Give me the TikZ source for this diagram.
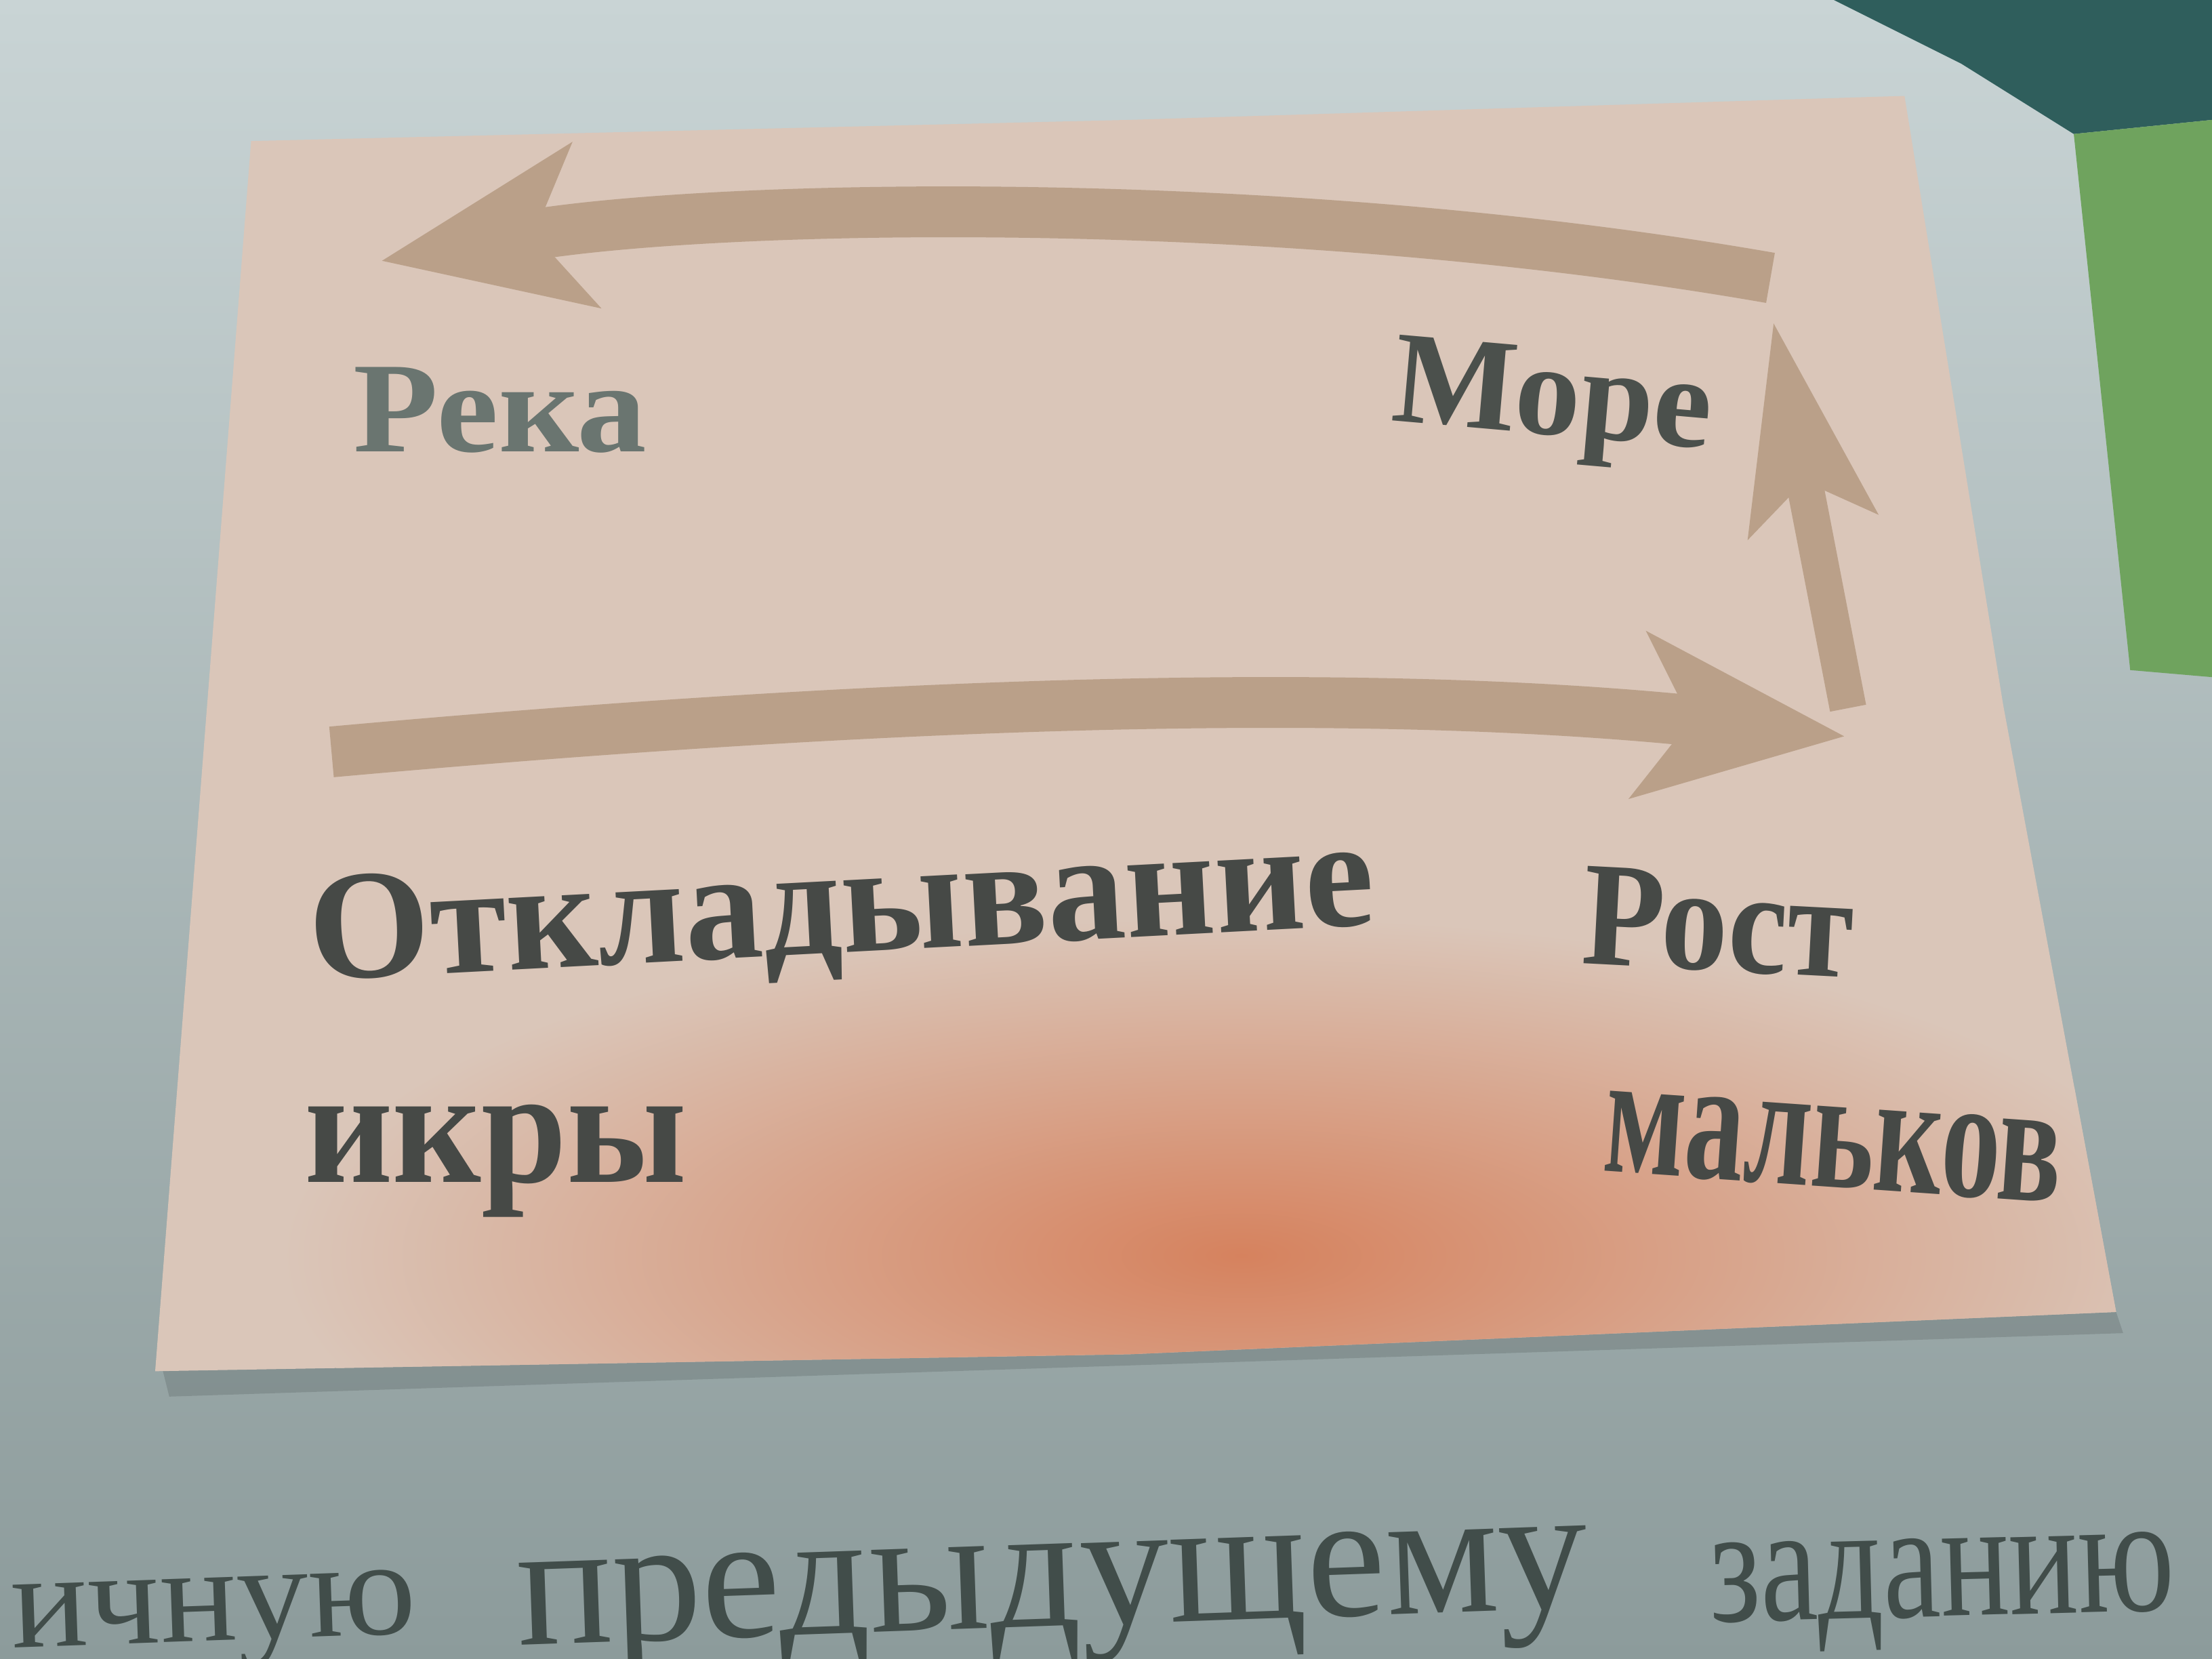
\documentclass[tikz,border=0pt]{standalone}
\usepackage{fontspec}
\setmainfont{Liberation Serif}
\usetikzlibrary{arrows.meta, positioning}

\definecolor{page}{HTML}{C9D4D5}
\definecolor{pagedark}{HTML}{8C9B9B}
\definecolor{sea}{HTML}{2F5E5C}
\definecolor{leaf}{HTML}{6FA35E}
\definecolor{card}{HTML}{DAC6B9}
\definecolor{glow}{HTML}{D6825E}
\definecolor{flowcol}{HTML}{BAA089}
\definecolor{ink}{HTML}{464946}
\definecolor{inklight}{HTML}{6A7570}

\tikzset{
	flow/.style={line width=0.36cm, draw=flowcol,
		-{Stealth[length=1.45cm, width=1.15cm, inset=0.35cm]}},
	word/.style={text=ink, inner sep=0pt, anchor=base west},
	tailword/.style={word, text=ink!80!sea},
}

\begin{document}
\begin{tikzpicture}
	\useasboundingbox (0,0) rectangle (15.68,-11.76);
	\shade[top color=page, middle color=page!90!black, bottom color=pagedark]
		(0,0) rectangle (15.68,-11.76);
	\fill[sea] (13.0,0) -- (15.68,0) -- (15.68,-0.85) -- (14.7,-0.95) -- (13.9,-0.45) -- cycle;
	\fill[leaf] (14.7,-0.95) -- (15.68,-0.85) -- (15.68,-4.8) -- (15.1,-4.75) -- cycle;
	\fill[pagedark!70!black, opacity=0.35]
		(1.15,-9.7) -- (15.0,-9.3) -- (15.05,-9.45) -- (1.2,-9.9) -- cycle;
	\path[fill=card] (1.78,-1.0) -- (8.0,-0.85) -- (13.5,-0.68) -- (14.2,-5.0) -- (15.0,-9.3)
		-- (8.0,-9.6) -- (1.1,-9.72) -- cycle;
	\begin{scope}
		\clip (1.78,-1.0) -- (8.0,-0.85) -- (13.5,-0.68) -- (14.2,-5.0) -- (15.0,-9.3)
			-- (8.0,-9.6) -- (1.1,-9.72) -- cycle;
		\shade[inner color=glow, outer color=card] (8.8,-8.9) ellipse (6.8cm and 2.4cm);
	\end{scope}

	\coordinate (topR) at (12.55,-1.97);
	\coordinate (topL) at (2.7,-1.85);
	\coordinate (upB) at (13.1,-5.02);
	\coordinate (upT) at (12.57,-2.28);
	\coordinate (botL) at (2.35,-5.33);
	\coordinate (botR) at (13.08,-5.22);

	\draw[flow] (topR) .. controls (9,-1.35) and (5,-1.45) .. (topL);
	\draw[flow, line width=0.26cm, -{Stealth[length=1.45cm, width=0.9cm, inset=0.3cm]}] (upB) -- (upT);
	\draw[flow] (botL) .. controls (6,-5.0) and (9.5,-4.85) .. (botR);

	\node[word, text=inklight, xscale=1.08, font=\fontsize{26}{26}\bfseries\selectfont] (reka) at (2.5,-3.2) {Река};
	\node[word, rotate=-5, font=\fontsize{26.5}{26.5}\bfseries\selectfont, text=ink!85!inklight] (more) at (9.85,-2.98) {Море};
	\node[word, rotate=3, font=\fontsize{31.5}{31.5}\bfseries\selectfont] (otkl) at (2.2,-6.95) {Откладывание};
	\node[word, yscale=1.07, font=\fontsize{31}{31}\bfseries\selectfont] (ikry) at (2.15,-8.38) {икры};
	\node[word, rotate=-3, xscale=0.9, font=\fontsize{30}{30}\bfseries\selectfont] (rost) at (11.2,-6.83) {Рост};
	\node[word, rotate=-4, xscale=0.75, yscale=1.1, font=\fontsize{32}{32}\bfseries\selectfont] (malk) at (11.35,-8.3) {мальков};

	\node[tailword, rotate=2, yscale=0.95, font=\fontsize{29}{29}\selectfont] (tail1) at (0.08,-11.68) {ичную};
	\node[tailword, rotate=2, font=\fontsize{36}{36}\selectfont] (tail2) at (3.67,-11.66) {предыдущему};
	\node[tailword, rotate=1.5, yscale=1.3, font=\fontsize{26}{26}\selectfont] (tail3) at (12.12,-11.5) {заданию};
\end{tikzpicture}
\end{document}
